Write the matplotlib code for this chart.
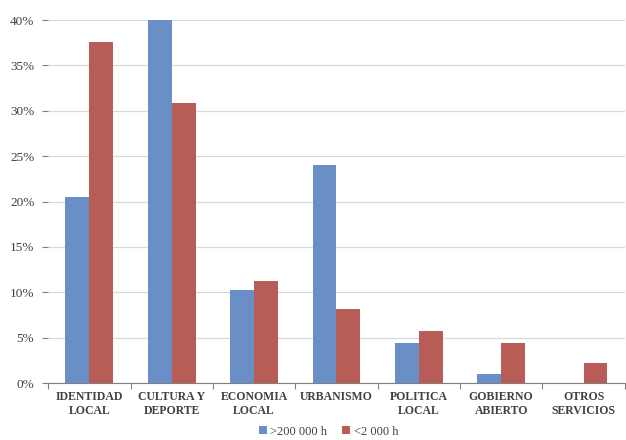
import numpy as np
import matplotlib.pyplot as plt
from matplotlib.ticker import FuncFormatter

plt.rcParams['font.family'] = ['Liberation Serif', 'DejaVu Serif']

# datos
categorias = ['IDENTIDAD\nLOCAL', 'CULTURA Y\nDEPORTE', 'ECONOMIA\nLOCAL', 'URBANISMO',
              'POLITICA\nLOCAL', 'GOBIERNO\nABIERTO', 'OTROS\nSERVICIOS']
grandes = [20.5, 40.0, 10.3, 24.0, 4.4, 1.0, 0.0]     # >200 000 h
pequenos = [37.6, 30.9, 11.2, 8.2, 5.7, 4.4, 2.2]     # <2 000 h
serie_labels = ['>200 000 h', '<2 000 h']

azul = '#6a8fc7'
rojo = '#b85c58'

fig = plt.figure(figsize=(6.26, 4.40), dpi=100)
ax = fig.add_axes([0.077, 0.1295, 0.921, 0.825])

x = np.arange(len(categorias))
w = 0.29
ax.bar(x - w / 2, grandes, w, color=azul, label=serie_labels[0], zorder=3)
ax.bar(x + w / 2, pequenos, w, color=rojo, label=serie_labels[1], zorder=3)

ax.set_xlim(-0.5, len(categorias) - 0.5)
ax.set_ylim(0, 40)
ax.set_yticks(np.arange(0, 41, 5))
ax.yaxis.set_major_formatter(FuncFormatter(lambda v, p: f'{int(v)}%'))
ax.yaxis.grid(True, color='#d9d9d9', linewidth=0.9, zorder=0)

# separadores de categorias
ax.set_xticks(np.arange(-0.5, len(categorias)), minor=False)
ax.set_xticklabels([])
ax.set_xticks(x, minor=True)
ax.set_xticklabels(categorias, minor=True, fontsize=8.5, fontweight='bold', color='#404040',
                   linespacing=1.2)
ax.tick_params(axis='x', which='major', length=4, color='#808080', direction='out')
ax.tick_params(axis='x', which='minor', length=0, pad=6)
ax.tick_params(axis='y', length=4, color='#808080', labelsize=9.5, labelcolor='#404040', pad=6)

for s in ['top', 'right', 'left']:
    ax.spines[s].set_visible(False)
ax.spines['bottom'].set_color('#808080')

# leyenda abajo, centrada
fig.legend(loc='lower center', bbox_to_anchor=(0.525, -0.015), ncol=2, frameon=False,
           fontsize=9, handlelength=0.6, handleheight=0.6, handletextpad=0.3,
           columnspacing=1.2, labelcolor='#404040', borderpad=0.2)

fig.savefig('out.png', dpi=100)
